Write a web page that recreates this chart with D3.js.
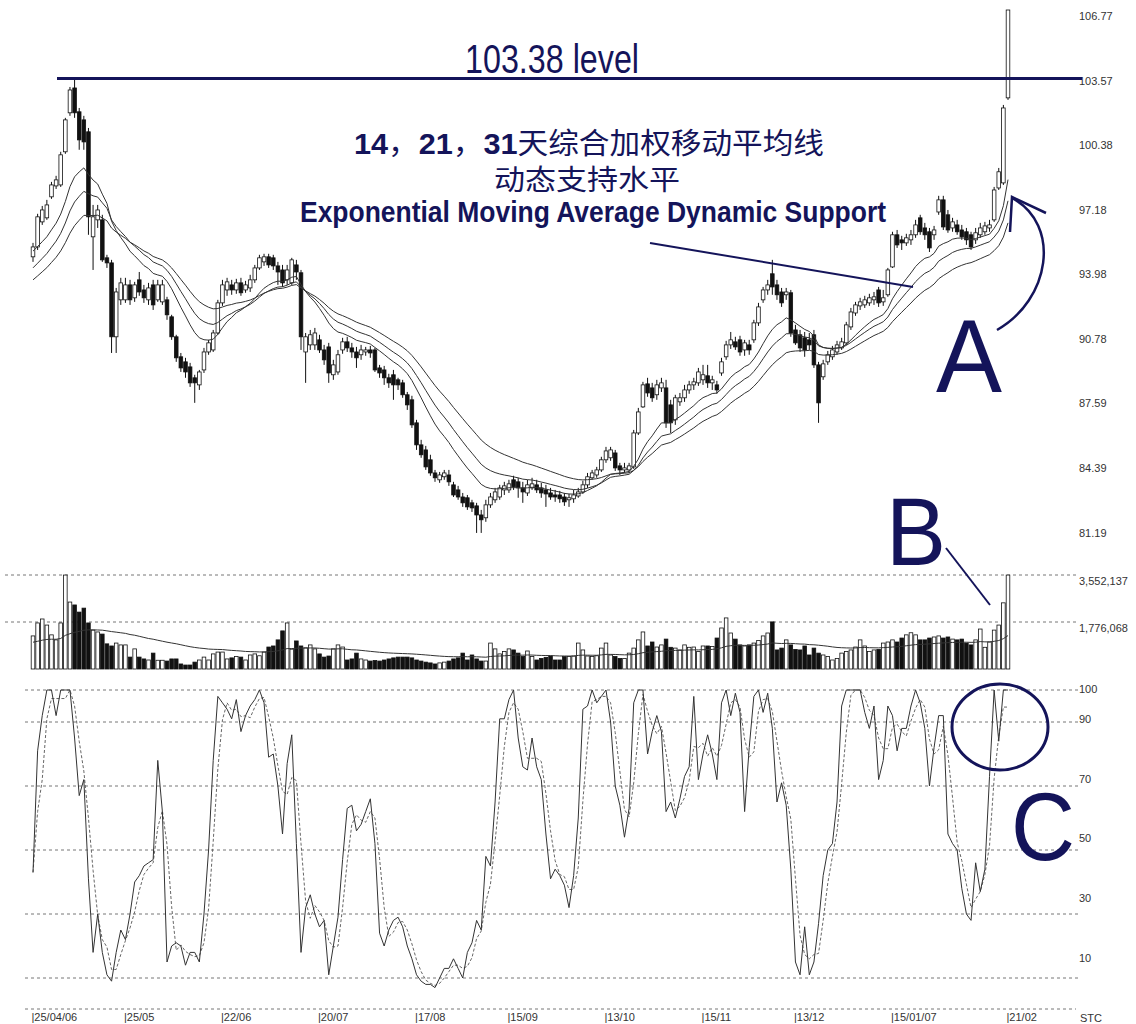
<!DOCTYPE html>
<html lang="zh">
<head>
    <meta charset="UTF-8">
    <title>EMA dynamic support</title>
    <script src="https://cdn.jsdelivr.net/npm/d3@7"></script>
    <style>
        body { margin: 0; background: #fff; }
        svg text { font-family: "Liberation Sans Narrow", "Liberation Sans", Arial, sans-serif; }
    </style>
</head>
<body>
<script>
    const [width, height] = [1136, 1024]

    // daily bars, 25/04/06 .. 21/02/07
    const opens = [
        94.55, 95.04, 96.28, 96.48, 97.52, 98.06, 98.11, 99.75, 101.68, 102.91,
        101.73, 101.33, 100.74, 95.54, 96.38, 96.38, 94.50, 94.25, 90.59, 92.42,
        92.42, 93.16, 92.52, 93.41, 92.91, 92.42, 93.16, 92.42, 92.32, 92.42,
        91.58, 90.59, 89.60, 89.35, 89.10, 88.56, 88.21, 88.95, 89.84, 89.94,
        90.78, 92.27, 92.91, 93.16, 92.91, 93.26, 92.91, 93.01, 93.41, 94.00,
        94.30, 94.55, 94.50, 94.10, 93.90, 93.41, 93.26, 94.15, 93.76, 89.84,
        90.19, 90.19, 90.44, 89.94, 90.09, 88.71, 88.85, 89.94, 90.34, 90.04,
        89.84, 89.70, 89.84, 89.94, 89.94, 89.05, 88.95, 88.56, 88.71, 88.46,
        88.31, 87.72, 87.47, 86.33, 85.24, 84.99, 84.50, 83.85, 83.51, 83.66,
        83.75, 83.26, 83.01, 82.66, 82.62, 82.37, 82.22, 81.77, 81.63, 82.27,
        82.52, 82.66, 83.01, 83.01, 83.51, 83.41, 83.11, 82.86, 83.11, 83.26,
        83.11, 83.01, 82.86, 82.76, 82.76, 82.66, 82.52, 82.57, 82.71, 82.91,
        83.26, 83.61, 83.75, 84.00, 84.50, 84.60, 84.84, 84.20, 84.00, 84.00,
        84.15, 85.83, 87.12, 88.26, 88.06, 87.72, 88.06, 88.06, 87.22, 86.48,
        87.37, 87.57, 87.96, 88.21, 88.31, 88.46, 88.66, 88.31, 88.21, 88.80,
        89.60, 90.19, 90.34, 90.44, 89.94, 90.19, 90.44, 91.28, 92.42, 92.91,
        93.71, 93.16, 92.81, 92.67, 92.77, 90.93, 90.69, 90.54, 90.44, 90.69,
        89.20, 88.61, 89.35, 89.60, 89.84, 90.04, 90.29, 91.08, 91.77, 92.12,
        92.17, 92.27, 92.42, 92.91, 92.32, 92.67, 94.05, 95.64, 95.39, 95.24,
        95.39, 95.64, 96.48, 95.98, 95.79, 95.64, 96.77, 97.37, 96.63, 95.98,
        96.13, 95.88, 95.79, 95.64, 95.39, 95.64, 95.79, 95.98, 96.38, 97.96,
        98.21, 102.42
    ]
    const closes = [
        95.04, 96.53, 96.87, 97.12, 98.11, 98.36, 99.60, 101.33, 102.81, 101.68,
        100.34, 100.24, 96.53, 96.53, 96.87, 94.40, 94.25, 90.59, 92.81, 93.26,
        93.16, 92.42, 93.16, 92.81, 92.52, 93.01, 92.17, 93.16, 93.16, 91.68,
        90.59, 89.55, 89.05, 88.85, 88.31, 88.31, 88.85, 89.84, 90.29, 90.78,
        92.27, 93.16, 93.31, 92.91, 93.26, 92.77, 93.16, 93.41, 94.00, 94.50,
        94.55, 94.15, 94.10, 93.80, 93.26, 93.90, 94.40, 93.80, 90.59, 90.59,
        90.69, 90.78, 89.94, 89.45, 88.80, 89.20, 89.70, 90.34, 90.04, 89.84,
        89.55, 89.94, 89.94, 89.79, 88.95, 88.80, 88.56, 88.31, 88.21, 88.21,
        87.72, 87.22, 86.23, 85.24, 84.75, 84.15, 83.85, 83.61, 83.75, 83.85,
        83.41, 82.76, 82.66, 82.37, 82.17, 82.12, 81.77, 81.53, 82.27, 82.66,
        82.91, 83.11, 83.21, 83.31, 83.16, 83.11, 82.91, 83.26, 83.31, 83.01,
        82.86, 82.81, 82.66, 82.66, 82.57, 82.42, 82.62, 82.76, 82.91, 83.26,
        83.66, 83.85, 84.00, 84.50, 84.94, 84.99, 84.10, 84.00, 84.10, 84.20,
        85.83, 86.87, 88.21, 87.81, 87.57, 88.21, 88.31, 86.33, 86.33, 87.57,
        87.57, 87.96, 88.21, 88.36, 88.85, 88.71, 88.31, 88.46, 87.96, 89.35,
        90.19, 90.44, 90.09, 89.84, 90.29, 89.94, 91.28, 92.07, 92.91, 93.16,
        93.06, 92.67, 92.27, 92.81, 90.78, 90.29, 90.04, 89.94, 90.19, 89.20,
        87.32, 89.25, 89.70, 89.94, 90.19, 90.34, 91.18, 91.82, 92.17, 92.32,
        92.42, 92.52, 92.57, 92.27, 92.52, 93.90, 95.64, 95.14, 95.24, 95.49,
        95.64, 96.13, 95.79, 95.64, 94.99, 95.88, 97.37, 96.03, 95.88, 96.28,
        95.79, 95.54, 95.39, 95.04, 95.74, 95.98, 96.08, 96.13, 97.86, 98.76,
        101.92, 106.77
    ]
    const highs = [
        95.24, 96.68, 97.07, 97.37, 98.26, 98.56, 99.75, 101.43, 102.96, 103.31,
        101.92, 101.53, 100.93, 97.12, 97.12, 96.63, 94.65, 94.40, 93.01, 93.51,
        93.51, 93.41, 93.31, 93.80, 93.16, 93.26, 93.41, 93.41, 93.41, 92.57,
        91.68, 90.69, 89.79, 89.55, 89.30, 88.71, 88.95, 90.04, 90.44, 90.93,
        92.42, 93.41, 93.51, 93.41, 93.46, 93.51, 93.36, 93.66, 94.15, 94.65,
        94.70, 94.70, 94.65, 94.30, 94.15, 94.15, 94.50, 94.40, 93.90, 90.78,
        90.93, 91.03, 90.69, 90.19, 90.29, 89.45, 89.94, 90.54, 90.59, 90.29,
        90.09, 90.19, 90.09, 90.14, 90.04, 89.20, 89.15, 88.76, 88.95, 88.56,
        88.46, 87.86, 87.67, 86.48, 85.49, 85.19, 84.75, 84.00, 83.90, 84.00,
        84.00, 83.41, 83.21, 82.86, 82.76, 82.52, 82.37, 82.02, 82.52, 82.86,
        83.11, 83.26, 83.41, 83.51, 83.71, 83.61, 83.41, 83.51, 83.61, 83.51,
        83.36, 83.26, 83.11, 83.01, 82.96, 82.86, 82.81, 83.01, 83.11, 83.46,
        83.85, 84.00, 84.15, 84.65, 85.14, 85.14, 84.99, 84.35, 84.35, 84.35,
        85.98, 87.07, 88.36, 88.56, 88.31, 88.46, 88.56, 88.46, 87.47, 87.72,
        87.81, 88.21, 88.41, 88.56, 89.05, 89.20, 89.20, 88.66, 88.41, 89.55,
        90.39, 90.83, 90.59, 90.64, 90.44, 90.44, 91.43, 92.27, 93.06, 93.41,
        94.40, 93.41, 93.01, 93.01, 92.91, 91.18, 90.93, 90.83, 90.78, 90.93,
        89.35, 89.45, 89.89, 90.14, 90.39, 90.54, 91.33, 92.02, 92.32, 92.52,
        92.62, 92.72, 92.81, 93.06, 92.91, 94.00, 95.79, 95.88, 95.59, 95.69,
        95.88, 96.38, 96.63, 96.23, 95.98, 96.08, 97.57, 97.57, 96.87, 96.48,
        96.38, 96.13, 95.98, 95.79, 95.98, 96.23, 96.28, 96.38, 98.01, 98.95,
        102.07, 106.77
    ]
    const lows = [
        94.30, 94.89, 96.13, 96.38, 97.42, 97.91, 98.01, 99.65, 101.53, 101.43,
        99.85, 99.85, 95.64, 93.90, 95.98, 94.30, 94.00, 89.79, 89.79, 92.17,
        92.27, 92.17, 92.32, 92.62, 92.27, 92.17, 91.92, 92.32, 92.17, 91.43,
        90.44, 89.35, 88.85, 88.56, 88.11, 87.32, 87.96, 88.80, 89.70, 89.84,
        90.69, 92.12, 92.62, 92.67, 92.72, 92.62, 92.77, 92.81, 93.26, 93.90,
        94.10, 94.00, 93.90, 93.16, 93.06, 93.16, 93.16, 93.41, 89.94, 88.31,
        89.94, 89.94, 89.79, 89.20, 88.31, 88.46, 88.71, 89.75, 89.84, 89.55,
        89.05, 89.45, 89.65, 89.55, 88.85, 88.56, 88.21, 88.06, 87.47, 87.96,
        87.57, 86.97, 86.08, 84.99, 84.60, 84.00, 83.71, 83.41, 83.36, 83.51,
        83.21, 82.66, 82.52, 82.17, 82.02, 81.92, 80.88, 80.88, 81.43, 82.12,
        82.37, 82.52, 82.76, 82.86, 83.01, 82.62, 82.37, 82.71, 83.01, 82.86,
        82.62, 82.17, 82.52, 82.42, 82.37, 82.22, 82.17, 82.37, 82.62, 82.81,
        83.11, 83.51, 83.61, 83.90, 84.35, 84.45, 83.95, 83.75, 83.85, 83.85,
        84.05, 85.73, 87.07, 87.62, 87.37, 87.47, 87.86, 86.08, 85.83, 86.23,
        87.17, 87.37, 87.77, 87.96, 88.16, 88.21, 88.06, 87.96, 87.77, 88.66,
        89.45, 89.99, 89.94, 89.65, 89.65, 89.70, 90.29, 91.13, 92.27, 92.67,
        92.67, 92.42, 92.07, 92.42, 90.59, 90.19, 89.84, 89.60, 89.94, 89.05,
        86.33, 88.46, 89.20, 89.45, 89.70, 89.94, 90.19, 90.93, 91.63, 91.92,
        92.02, 92.12, 92.17, 92.07, 92.12, 92.57, 94.00, 94.99, 94.89, 95.09,
        95.14, 95.49, 95.64, 95.39, 94.79, 95.39, 96.63, 95.88, 95.74, 95.79,
        95.64, 95.39, 95.14, 94.89, 95.19, 95.49, 95.64, 95.79, 96.28, 97.86,
        98.11, 102.32
    ]
    // volume in millions of shares
    const volumes = [
        1.25, 1.74, 1.89, 1.66, 1.29, 1.10, 1.74, 3.55, 2.53, 2.42,
        2.15, 2.30, 1.74, 1.47, 1.40, 1.32, 0.95, 0.87, 0.98, 0.91,
        0.91, 0.45, 0.76, 0.45, 0.38, 0.34, 0.60, 0.33, 0.33, 0.30,
        0.38, 0.38, 0.19, 0.15, 0.15, 0.26, 0.34, 0.45, 0.34, 0.57,
        0.64, 0.64, 0.38, 0.42, 0.47, 0.45, 0.34, 0.53, 0.57, 0.50,
        0.64, 0.83, 0.87, 1.10, 1.44, 1.74, 0.75, 1.06, 0.87, 0.80,
        0.91, 0.76, 0.57, 0.45, 0.49, 0.76, 0.91, 0.83, 0.34, 0.38,
        0.60, 0.38, 0.34, 0.30, 0.32, 0.30, 0.34, 0.38, 0.42, 0.45,
        0.45, 0.45, 0.42, 0.34, 0.30, 0.26, 0.23, 0.19, 0.23, 0.26,
        0.30, 0.38, 0.42, 0.60, 0.34, 0.53, 0.38, 0.30, 0.30, 0.98,
        0.76, 0.57, 0.66, 0.76, 0.72, 0.60, 0.47, 0.68, 0.47, 0.34,
        0.40, 0.44, 0.49, 0.34, 0.34, 0.47, 0.47, 0.49, 0.98, 0.72,
        0.49, 0.47, 0.50, 0.79, 0.98, 0.53, 0.47, 0.40, 0.40, 0.60,
        0.79, 1.10, 1.40, 0.87, 1.02, 0.83, 0.91, 1.13, 0.82, 0.79,
        0.72, 0.91, 0.82, 0.83, 0.66, 0.87, 0.87, 0.85, 1.17, 1.55,
        1.93, 1.36, 1.13, 0.91, 0.87, 0.91, 0.98, 1.08, 1.25, 1.36,
        1.78, 0.72, 0.79, 1.10, 0.91, 0.74, 0.72, 0.87, 0.53, 0.79,
        0.60, 0.53, 0.47, 0.34, 0.40, 0.60, 0.66, 0.72, 0.83, 1.10,
        0.87, 0.66, 0.72, 0.74, 0.98, 1.02, 1.10, 1.02, 1.17, 1.29,
        1.37, 1.29, 1.10, 1.10, 1.17, 1.21, 1.25, 1.17, 1.21, 1.13,
        1.10, 1.13, 0.98, 0.91, 1.10, 1.51, 0.82, 1.02, 1.47, 1.66,
        2.50, 3.55
    ]
    // stochastic %K
    const stochK = [
        43, 81, 92, 100, 100, 92, 100, 100, 100, 85,
        67, 72, 41, 18, 30, 18, 11, 9, 18, 25,
        22, 30, 40, 42, 45, 46, 47, 78, 62, 15,
        20, 21, 20, 14, 18, 18, 15, 30, 50, 78,
        98, 96, 94, 91, 97, 87, 92, 95, 97, 100,
        96, 79, 80, 70, 55, 77, 86, 52, 18, 32,
        36, 30, 26, 28, 11, 20, 29, 47, 63, 64,
        56, 58, 62, 66, 52, 24, 20, 25, 28, 29,
        26, 20, 16, 11, 9, 8, 8, 7, 10, 13,
        13, 16, 13, 10, 18, 21, 28, 25, 48, 45,
        65, 91, 91, 97, 100, 85, 76, 75, 85, 76,
        72, 55, 41, 44, 42, 39, 32, 42, 60, 94,
        95, 100, 96, 98, 100, 90, 70, 64, 54, 63,
        96, 100, 100, 80, 87, 92, 87, 62, 65, 60,
        66, 73, 76, 98, 72, 80, 86, 80, 72, 96,
        100, 92, 99, 93, 62, 82, 98, 100, 93, 99,
        88, 65, 71, 64, 44, 15, 11, 26, 11, 15,
        27, 42, 50, 52, 65, 95, 100, 100, 100, 100,
        93, 88, 95, 72, 78, 95, 92, 81, 88, 88,
        95, 100, 96, 88, 70, 82, 92, 92, 55, 52,
        50, 38, 30, 28, 46, 37, 44, 73, 100, 84,
        100, 100
    ]
    const emaPeriods = [14, 21, 31]
    const emaSeeds = [94.8, 93.9, 93.3]      // levels of the averages on the first bar
    const volMaPeriod = 40
    const volMaSeed = 1.0
    const priceTicks = [106.77, 103.57, 100.38, 97.18, 93.98, 90.78, 87.59, 84.39, 81.19]
    const volTicks = [3552137, 1776068]
    const stochTicks = [100, 90, 70, 50, 30, 10]
    const dateIdx = [0, 20, 41, 62, 83, 103, 124, 145, 165, 186, 211]
    const dateLabels = ['25/04/06', '25/05', '22/06', '20/07', '17/08', '15/09', '13/10', '15/11', '13/12', '15/01/07', '21/02']
    const resistance = 103.38

    const N = closes.length
    const navy = '#14145a'
    const svg = d3.select('body').append('svg').attr('width', width).attr('height', height)

    const x = d3.scaleLinear().domain([0, N - 1]).range([33, 1008])
    const yP = d3.scaleLinear().domain([80.53, 106.77]).range([540, 10])
    const yV = d3.scaleLinear().domain([0, 3.552137]).range([669, 575])
    const yS = d3.scaleLinear().domain([0, 100]).range([1010, 690])
    // the oscillator's labels sit on their own, slightly tighter spacing
    const yStochLabel = d3.scaleLinear().domain([100, 10]).range([689, 958])

    const ema = (vals, period, seed) => {
        const k = 2 / (period + 1)
        let e = seed
        return vals.map(v => (e = e + k * (v - e)))
    }
    const isUp = i => closes[i] >= opens[i]
    const idx = d3.range(N)

    // dotted guide lines
    const dotted = (g, y, x1, x2) => g.append('line')
        .attr('x1', x1).attr('x2', x2).attr('y1', y).attr('y2', y)
        .attr('stroke', '#777').attr('stroke-width', 1).attr('stroke-dasharray', '3,3')
    const grid = svg.append('g')
    volTicks.forEach(v => dotted(grid, yV(v / 1e6), 5, 1078))
    stochTicks.forEach(v => dotted(grid, yS(v), 25, 1078))
    dotted(grid, 1009, 25, 1078)

    // right axes
    const styleAxis = g => {
        g.select('.domain').remove()
        g.selectAll('.tick line').remove()
        g.selectAll('.tick text').attr('x', 0).attr('dy', '0.32em')
            .attr('fill', '#333').style('font-size', '11px')
            .style('font-family', '"Liberation Sans", Arial, sans-serif')
    }
    svg.append('g').attr('transform', 'translate(1079,0)')
        .call(d3.axisRight(yP).tickValues(priceTicks).tickFormat(d3.format('.2f')))
        .call(styleAxis).selectAll('.tick text').attr('y', 6)
    svg.append('g').attr('transform', 'translate(1079,0)')
        .call(d3.axisRight(yV).tickValues(volTicks.map(v => v / 1e6)).tickFormat((d, i) => d3.format(',')(volTicks[i])))
        .call(styleAxis).selectAll('.tick text').attr('y', 6)
    svg.append('g').attr('transform', 'translate(1079,0)')
        .call(d3.axisRight(yStochLabel).tickValues(stochTicks))
        .call(styleAxis)

    // date axis
    const dateAxis = svg.append('g').attr('transform', 'translate(0,1010)')
        .call(d3.axisBottom(x).tickValues(dateIdx).tickFormat((d, i) => '|' + dateLabels[i]).tickSize(0))
    dateAxis.select('.domain').remove()
    dateAxis.selectAll('.tick text').attr('y', 3).attr('text-anchor', 'start').attr('x', -2)
        .attr('fill', '#333').style('font-size', '11px')
    dateAxis.selectAll('.tick').each(function () {
        const t = d3.select(this).select('text')
        const b = t.node().getBBox()
        d3.select(this).insert('rect', 'text').attr('x', b.x - 1).attr('y', b.y)
            .attr('width', b.width + 2).attr('height', b.height).attr('fill', '#fff')
    })
    svg.append('rect').attr('x', 1076).attr('y', 1003).attr('width', 30).attr('height', 20).attr('fill', '#fff')
    svg.append('text').attr('x', 1080).attr('y', 1022).text('STC')
        .attr('fill', '#333').style('font-size', '11px')

    // candles
    const candles = svg.append('g')
    candles.selectAll('line.wick').data(idx).join('line').attr('class', 'wick')
        .attr('x1', i => x(i)).attr('x2', i => x(i))
        .attr('y1', i => yP(highs[i])).attr('y2', i => yP(lows[i]))
        .attr('stroke', '#111').attr('stroke-width', 1)
    candles.selectAll('rect').data(idx).join('rect')
        .attr('x', i => x(i) - 1.8).attr('width', 3.6)
        .attr('y', i => yP(Math.max(opens[i], closes[i])))
        .attr('height', i => Math.max(1, Math.abs(yP(opens[i]) - yP(closes[i]))))
        .attr('fill', i => isUp(i) ? '#fff' : '#111')
        .attr('stroke', '#111').attr('stroke-width', 0.8)

    // moving averages
    const line = d3.line().x((d, i) => x(i)).y(d => yP(d))
    emaPeriods.forEach((p, k) => {
        svg.append('path').datum(ema(closes, p, emaSeeds[k]))
            .attr('d', line).attr('fill', 'none').attr('stroke', '#333').attr('stroke-width', 1)
    })

    // volume
    const vol = svg.append('g')
    vol.selectAll('rect').data(idx).join('rect')
        .attr('x', i => x(i) - 1.8).attr('width', 3.6)
        .attr('y', i => yV(volumes[i])).attr('height', i => yV(0) - yV(volumes[i]))
        .attr('fill', i => isUp(i) ? '#fff' : '#111')
        .attr('stroke', '#111').attr('stroke-width', 0.8)
    vol.append('path').datum(ema(volumes, volMaPeriod, volMaSeed))
        .attr('d', d3.line().x((d, i) => x(i)).y(d => yV(d)))
        .attr('fill', 'none').attr('stroke', '#333').attr('stroke-width', 1)

    // stochastic
    const stochD = stochK.map((v, i) => d3.mean(stochK.slice(Math.max(0, i - 2), i + 1)))
    const sLine = d3.line().x((d, i) => x(i)).y(d => yS(d))
    svg.append('path').datum(stochD).attr('d', sLine).attr('fill', 'none')
        .attr('stroke', '#666').attr('stroke-width', 1).attr('stroke-dasharray', '3,2')
    svg.append('path').datum(stochK).attr('d', sLine).attr('fill', 'none')
        .attr('stroke', '#333').attr('stroke-width', 1)

    // annotations
    const notes = svg.append('g').attr('fill', navy)
    notes.append('line').attr('x1', 57).attr('x2', 1082)
        .attr('y1', yP(resistance)).attr('y2', yP(resistance))
        .attr('stroke', navy).attr('stroke-width', 3)
    notes.append('text').attr('x', 465).attr('y', 73).text(resistance.toFixed(2) + ' level')
        .style('font-size', '40px').attr('textLength', 174).attr('lengthAdjust', 'spacingAndGlyphs')

    const cjk = '"Noto Sans CJK SC", sans-serif'
    const t1 = notes.append('text').attr('x', 354).attr('y', 154)
        .attr('textLength', 470).attr('lengthAdjust', 'spacingAndGlyphs')
        .style('font-family', cjk).style('font-size', '29px')
    const parts = [['14', true], ['，', false], ['21', true], ['，', false], ['31', true], ['天综合加权移动平均线', false]]
    parts.forEach(([s, num]) => t1.append('tspan').text(s)
        .style('font-weight', num ? 'bold' : 'normal')
        .style('font-family', num ? '"Liberation Sans Narrow", "Liberation Sans", sans-serif' : cjk))
    notes.append('text').attr('x', 494).attr('y', 190).text('动态支持水平')
        .style('font-family', cjk).style('font-size', '28px')
        .attr('textLength', 186).attr('lengthAdjust', 'spacingAndGlyphs')
    notes.append('text').attr('x', 300).attr('y', 222).text('Exponential Moving Average Dynamic Support')
        .style('font-size', '30px').style('font-weight', 'bold')
        .attr('textLength', 586).attr('lengthAdjust', 'spacingAndGlyphs')
    notes.append('line').attr('x1', 650).attr('y1', 243).attr('x2', 913).attr('y2', 287)
        .attr('stroke', navy).attr('stroke-width', 2)

    const bigLetter = (t, left, by, size, w) => notes.append('text').attr('x', left).attr('y', by).text(t)
        .style('font-size', size + 'px').attr('textLength', w).attr('lengthAdjust', 'spacingAndGlyphs')
        .style('font-family', '"Liberation Sans", Arial, sans-serif')
    bigLetter('A', 936, 392, 104, 66)
    bigLetter('B', 886, 565, 97, 60)
    bigLetter('C', 1011, 860, 97, 64)

    notes.append('path').attr('d', 'M997,330 C1050,300 1062,225 1012,198')
        .attr('fill', 'none').attr('stroke', navy).attr('stroke-width', 2.5)
    notes.append('path').attr('d', 'M1046,213 L1012,197 L1010,232')
        .attr('fill', 'none').attr('stroke', navy).attr('stroke-width', 2.5)
    notes.append('line').attr('x1', 946).attr('y1', 548).attr('x2', 990).attr('y2', 605)
        .attr('stroke', navy).attr('stroke-width', 2)
    notes.append('ellipse').attr('cx', 1000).attr('cy', 727).attr('rx', 48).attr('ry', 43)
        .attr('fill', 'none').attr('stroke', navy).attr('stroke-width', 3)
</script>
</body>
</html>
